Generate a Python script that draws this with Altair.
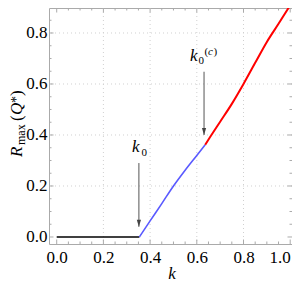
import altair as alt
import pandas as pd

# ---- data ----
flat_k = [0.0, 0.354]
flat_R = [0.0, 0.0]
blue_k = [0.354, 0.40, 0.45, 0.50, 0.55, 0.60, 0.636]
blue_R = [0.0, 0.063, 0.131, 0.200, 0.262, 0.320, 0.362]
red_k = [0.636, 0.657, 0.70, 0.75, 0.80, 0.85, 0.90, 0.95, 0.994]
red_R = [0.362, 0.392, 0.452, 0.522, 0.600, 0.683, 0.765, 0.836, 0.900]

x_major = [0.0, 0.2, 0.4, 0.6, 0.8, 1.0]
y_major = [0.0, 0.2, 0.4, 0.6, 0.8]
x_minor = [0.05, 0.1, 0.15, 0.25, 0.3, 0.35, 0.45, 0.5, 0.55, 0.65, 0.7, 0.75, 0.85, 0.9, 0.95]
y_minor = [0.05, 0.1, 0.15, 0.25, 0.3, 0.35, 0.45, 0.5, 0.55, 0.65, 0.7, 0.75, 0.85]
grid_vals = [0.2, 0.4, 0.6, 0.8]

arrow_k = [0.352, 0.631]
arrow_top = [0.29, 0.648]
arrow_tip = [0.04, 0.40]

W, H = 243, 236
FONT = "Liberation Serif"
FRAME = "#aaaaaa"

xs = alt.Scale(domain=[-0.033, 1.0077], nice=False, zero=False)
ys = alt.Scale(domain=[-0.0275, 0.898], nice=False, zero=False)

XA = alt.Axis(values=x_major, format=".1f", title=None, ticks=False, domain=False,
              grid=False, labelFont=FONT, labelFontSize=17, labelColor="black",
              labelPadding=5, labelOverlap=False, labelFlush=5)
YA = alt.Axis(values=y_major, format=".1f", title=None, ticks=False, domain=False,
              grid=False, labelFont=FONT, labelFontSize=17, labelColor="black",
              labelPadding=2, labelOverlap=False)


def X(field):
    return alt.X(field, type="quantitative", scale=xs, axis=XA)


def Y(field):
    return alt.Y(field, type="quantitative", scale=ys, axis=YA)


layers = []

# grid lines
layers.append(alt.Chart(pd.DataFrame({"v": grid_vals})).mark_rule(
    color="#d0d0d0", strokeDash=[1, 3], strokeWidth=1).encode(x=X("v")))
layers.append(alt.Chart(pd.DataFrame({"v": grid_vals})).mark_rule(
    color="#d0d0d0", strokeDash=[1, 3], strokeWidth=1).encode(y=Y("v")))


# inward frame ticks
def ticks(vals, channel, length):
    df = pd.DataFrame({"v": vals})
    out = []
    if channel == "x":
        out.append(alt.Chart(df).mark_rule(color=FRAME).encode(
            x=X("v"), y=alt.value(H), y2=alt.value(H - length)))
        out.append(alt.Chart(df).mark_rule(color=FRAME).encode(
            x=X("v"), y=alt.value(0), y2=alt.value(length)))
    else:
        out.append(alt.Chart(df).mark_rule(color=FRAME).encode(
            y=Y("v"), x=alt.value(0), x2=alt.value(length)))
        out.append(alt.Chart(df).mark_rule(color=FRAME).encode(
            y=Y("v"), x=alt.value(W), x2=alt.value(W - length)))
    return out


layers += ticks(x_major, "x", 4.5)
layers += ticks(x_minor, "x", 2.5)
layers += ticks(y_major, "y", 4.5)
layers += ticks(y_minor, "y", 2.5)


# curves
def curve(ks, Rs, color, width):
    df = pd.DataFrame({"k": ks, "R": Rs})
    return alt.Chart(df).mark_line(color=color, strokeWidth=width, interpolate="monotone").encode(
        x=X("k"), y=Y("R"))


layers.append(curve(flat_k, flat_R, "#000000", 1.5))
layers.append(curve(blue_k, blue_R, "#5a5aff", 1.6))
layers.append(curve(red_k, red_R, "#ff0000", 2.0))

# arrows
adf = pd.DataFrame({"k": arrow_k, "top": arrow_top, "tip": arrow_tip})
layers.append(alt.Chart(adf).mark_rule(color="#555555", strokeWidth=1).encode(
    x=X("k"), y=Y("top"), y2="tip:Q"))
layers.append(alt.Chart(adf).mark_point(
    shape="M-0.3,-1L0.3,-1L0,0Z", size=196, filled=True, color="#444444", opacity=1).encode(
    x=X("k"), y=Y("tip")))


# annotation labels attached to the arrows
def label(text, i, dx, dy, size, style="normal"):
    df = pd.DataFrame({"k": [arrow_k[i]], "R": [arrow_top[i]], "t": [text]})
    return alt.Chart(df).mark_text(font=FONT, fontSize=size, fontStyle=style, align="left",
                                   baseline="alphabetic", dx=dx, dy=dy, color="black").encode(
        x=X("k"), y=Y("R"), text="t:N")


layers.append(label("k", 0, -7, -11, 17, "italic"))
layers.append(label("0", 0, 2.5, -7, 11))
layers.append(label("k", 1, -14, -11, 17, "italic"))
layers.append(label("0", 1, -5.5, -8, 11))
layers.append(label("(", 1, 0.5, -17, 11))
layers.append(label("c", 1, 4, -17, 11, "italic"))
layers.append(label(")", 1, 9.5, -17, 11))


# axis titles as text pieces
def ptext(text, x, y, size, style="normal", angle=0, align="left", font=FONT):
    df = pd.DataFrame({"t": [text]})
    return alt.Chart(df).mark_text(font=font, fontSize=size, fontStyle=style, align=align,
                                   baseline="alphabetic", angle=angle, color="black").encode(
        x=alt.value(x), y=alt.value(y), text="t:N")


layers.append(ptext("k", 123, 271, 17, "italic", align="center"))
layers.append(ptext("R", -27, 149, 17, "italic", angle=270))
layers.append(ptext("max", -24.5, 137, 12, angle=270))
layers.append(ptext("(", -27, 113, 17, angle=270))
layers.append(ptext("Q", -27, 107, 17, "italic", angle=270))
layers.append(ptext("*", -28, 95, 14, angle=270))
layers.append(ptext(")", -27, 88, 17, angle=270))

chart = alt.layer(*layers).properties(
    width=W, height=H,
    autosize=alt.AutoSizeParams(type="none"),
    padding={"left": 41, "top": 0, "right": 0, "bottom": 41},
).configure_view(stroke=FRAME, strokeWidth=1)

chart.save("out.html", embed_options={"renderer": "svg", "actions": False})
